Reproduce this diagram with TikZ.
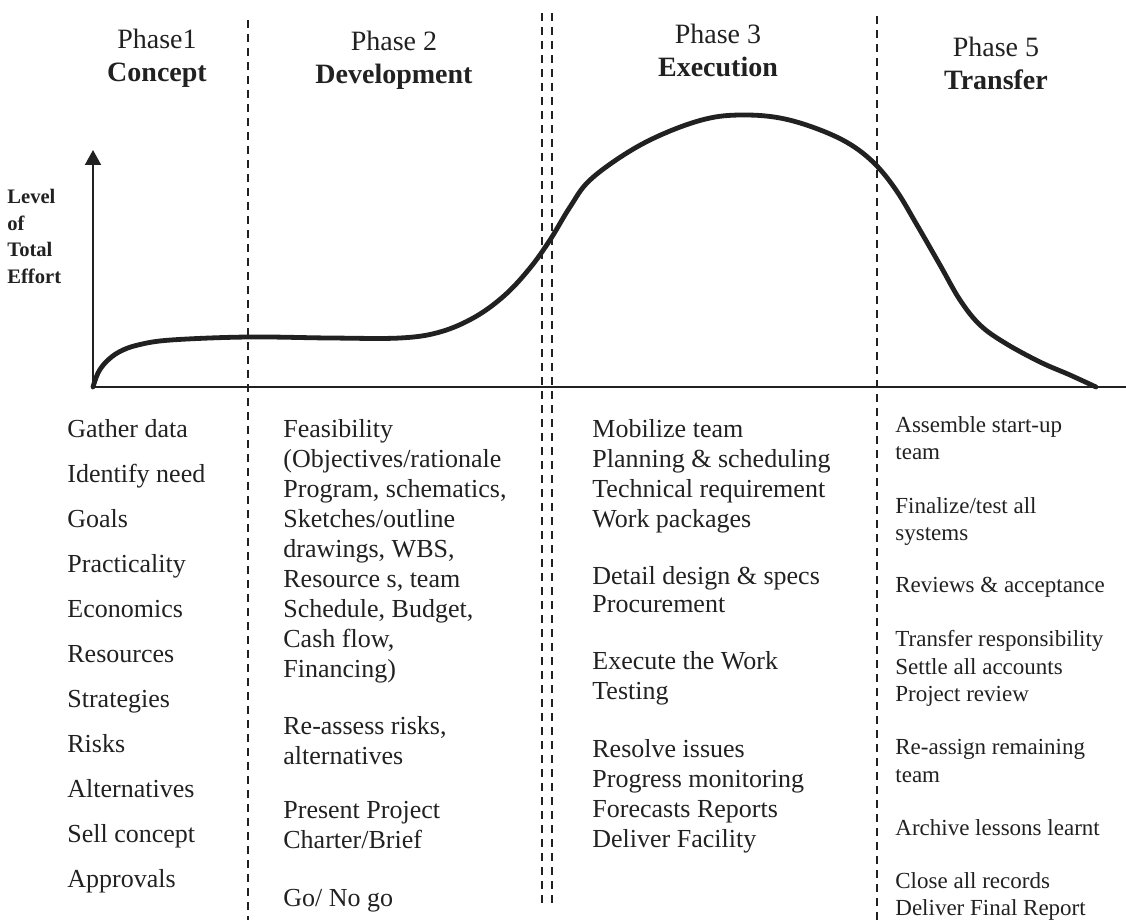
\documentclass[tikz,border=0pt]{standalone}
\usepackage{fontspec}
\setmainfont{Liberation Serif}
\usetikzlibrary{arrows.meta}
\definecolor{ink}{gray}{0.13}

\begin{document}
\begin{tikzpicture}[x=0.5pt,y=-0.5pt]
  \tikzstyle{every node}+=[inner sep=0pt, text=ink]
  \tikzstyle{head}=[align=center, anchor=north, font=\fontsize{14}{16.5}\selectfont]
  \tikzstyle{col}=[align=left, anchor=north west, font=\fontsize{13}{15}\selectfont]
  \tikzstyle{colsm}=[align=left, anchor=north west, font=\fontsize{11.5}{13.8}\selectfont]
  \tikzstyle{divider}=[ink, line width=0.9pt, dash pattern=on 4pt off 3pt]
  \useasboundingbox (0,0) rectangle (1126,920);

  % axes
  \coordinate (o) at (93,387);
  \coordinate (ytop) at (93,150);
  \coordinate (xend) at (1126,387);
  \draw [ink, line width=1pt, -{Triangle[width=8pt,length=7.5pt]}] (o) -- (ytop);
  \draw [ink, line width=1pt] (o) -- (xend);
  \node [align=left, anchor=north west, font=\fontsize{10.3}{13.3}\selectfont\bfseries] (yl) at (7,189) {Level\\of\\Total\\Effort};

  % phase dividers
  \draw [divider] (248,20) -- (248,920);
  \draw [divider] (542,13) -- (542,908);
  \draw [divider] (552,13) -- (552,908);
  \draw [divider] (877,16) -- (877,920);

  % effort curve
  \draw [ink, line width=2.4pt, line cap=round] plot [smooth, tension=0.6] coordinates {
    (93,387) (98,373) (106,362) (119,352) (138,345) (171,340) (248,337)
    (330,338) (400,338) (440,332) (475,317) (505,295) (530,268) (550,240)
    (570,207) (590,180) (630,151) (670,131) (710,118) (745,115) (780,118)
    (815,128) (848,143) (874,163) (896,190) (917,225) (940,265) (960,300)
    (980,325) (1005,343) (1040,362) (1070,375) (1096,387)};

  % headers
  \node [head] (h1) at (157,29) {Phase1\\\textbf{Concept}};
  \node [head] (h2) at (394,31) {Phase 2\\\textbf{Development}};
  \node [head] (h3) at (718,24) {Phase 3\\\textbf{Execution}};
  \node [head] (h5) at (996,37) {Phase 5\\\textbf{Transfer}};

  % phase 1
  \node [col, font=\fontsize{13}{22.5}\selectfont] (c1) at (67,419) {Gather data\\Identify need\\Goals\\Practicality\\Economics\\Resources\\Strategies\\Risks\\Alternatives\\Sell concept\\Approvals};

  % phase 2
  \node [col] (d1) at (283,419) {Feasibility\\(Objectives/rationale\\Program, schematics,\\Sketches/outline\\drawings, WBS,\\Resource s, team\\Schedule, Budget,\\Cash flow,\\Financing)};
  \node [col] (d2) at (283,716) {Re-assess risks,\\alternatives};
  \node [col] (d3) at (283,801) {Present Project\\Charter/Brief};
  \node [col] (d4) at (283,889) {Go/ No go};

  % phase 3
  \node [col] (e1) at (592,419) {Mobilize team\\Planning \& scheduling\\Technical requirement\\Work packages};
  \node [col, font=\fontsize{13}{14.2}\selectfont] (e2) at (592,566) {Detail design \& specs\\Procurement};
  \node [col] (e3) at (592,651) {Execute the Work\\Testing};
  \node [col] (e4) at (592,739) {Resolve issues\\Progress monitoring\\Forecasts Reports\\Deliver Facility};

  % phase 5
  \node [colsm] (t1) at (895,416) {Assemble start-up\\team};
  \node [colsm] (t2) at (895,497) {Finalize/test all\\systems};
  \node [colsm] (t3) at (895,577) {Reviews \& acceptance};
  \node [colsm] (t4) at (895,630) {Transfer responsibility\\Settle all accounts\\Project review};
  \node [colsm] (t5) at (895,739) {Re-assign remaining\\team};
  \node [colsm] (t6) at (895,819) {Archive lessons learnt};
  \node [colsm] (t7) at (895,872) {Close all records\\Deliver Final Report};
\end{tikzpicture}
\end{document}
